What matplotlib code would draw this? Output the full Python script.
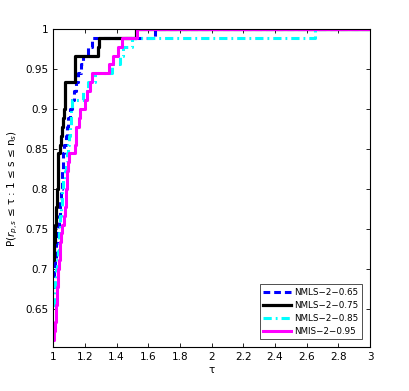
import numpy as np
import matplotlib
matplotlib.use("Agg")
from matplotlib import pyplot as plt

n_prob = 90  # problems in the test set

# performance profiles: tau at which each solver reaches the given count of solved problems
cnt_065 = [61, 62, 63, 64, 65, 66, 67, 68, 69, 70, 71, 72, 73, 74, 75, 76, 77, 78, 79, 80,
           81, 82, 83, 84, 85, 86, 87, 88, 89, 90]
tau_065 = [1.0, 1.003, 1.006, 1.01, 1.015, 1.02, 1.025, 1.03, 1.035, 1.04, 1.045, 1.05, 1.053,
           1.056, 1.06, 1.063, 1.07, 1.08, 1.09, 1.095, 1.107, 1.12, 1.13, 1.145, 1.158, 1.175,
           1.19, 1.22, 1.246, 1.64]

cnt_075 = [64, 66, 68, 70, 72, 74, 76, 77, 78, 79, 80, 81, 82, 83, 84, 87, 88, 89, 90]
tau_075 = [1.0, 1.005, 1.013, 1.018, 1.025, 1.028, 1.031, 1.04, 1.048, 1.055, 1.062, 1.07,
           1.072, 1.074, 1.076, 1.14, 1.28, 1.29, 1.52]

cnt_085 = [59, 60, 61, 62, 63, 64, 65, 66, 67, 68, 69, 70, 71, 72, 73, 74, 75, 76, 77, 78,
           79, 80, 81, 82, 83, 84, 85, 86, 87, 88, 89, 90]
tau_085 = [1.0, 1.005, 1.008, 1.012, 1.019, 1.024, 1.03, 1.034, 1.038, 1.042, 1.046, 1.05,
           1.054, 1.057, 1.064, 1.072, 1.08, 1.088, 1.095, 1.1, 1.105, 1.11, 1.115, 1.12, 1.19,
           1.22, 1.265, 1.37, 1.42, 1.44, 1.5, 2.65]

cnt_095 = [55, 56, 57, 58, 59, 60, 61, 62, 63, 64, 65, 66, 67, 68, 69, 70, 71, 72, 73, 74,
           75, 76, 77, 78, 79, 80, 81, 82, 83, 84, 85, 86, 87, 88, 89, 90]
tau_095 = [1.0, 1.005, 1.01, 1.015, 1.02, 1.023, 1.026, 1.029, 1.032, 1.036, 1.04, 1.044,
           1.048, 1.055, 1.07, 1.077, 1.08, 1.083, 1.087, 1.09, 1.095, 1.10, 1.14, 1.142,
           1.145, 1.16, 1.17, 1.2, 1.215, 1.23, 1.245, 1.35, 1.38, 1.41, 1.435, 1.53]

tau_max = 3.0

labels = ["NMLS\u22122\u22120.65", "NMLS\u22122\u22120.75", "NMLS\u22122\u22120.85", "NMIS\u22122\u22120.95"]

x_ticks = np.arange(1, 3.01, 0.2)
y_ticks = [0.65, 0.7, 0.75, 0.8, 0.85, 0.9, 0.95, 1]


def profile(tau, cnt):
    t = list(tau) + [tau_max]
    r = [c / n_prob for c in cnt] + [cnt[-1] / n_prob]
    return t, r


plt.rcParams["font.size"] = 7.5

fig = plt.figure(figsize=(4.09, 3.91), dpi=100)
ax = fig.add_axes([0.13, 0.1125, 0.775, 0.8135])

t, r = profile(tau_065, cnt_065)
ax.plot(t, r, drawstyle="steps-post", color="#0000ff", lw=2.2, dashes=(2.2, 1.3), label=labels[0])
t, r = profile(tau_075, cnt_075)
ax.plot(t, r, drawstyle="steps-post", color="black", lw=2.3, label=labels[1])
t, r = profile(tau_085, cnt_085)
ax.plot(t, r, drawstyle="steps-post", color="#00ffff", lw=2.2, dashes=(2.7, 1.3, 0.6, 1.3),
        label=labels[2])
t, r = profile(tau_095, cnt_095)
ax.plot(t, r, drawstyle="steps-post", color="#ff00ff", lw=2.2, label=labels[3])

ax.set_xlim(1, 3)
ax.set_ylim(0.6025, 1)
ax.set_xticks(x_ticks)
ax.set_xticklabels(["%g" % round(v, 1) for v in x_ticks])
ax.set_yticks(y_ticks)
ax.set_yticklabels(["%g" % v for v in y_ticks])
ax.tick_params(direction="in", top=True, right=True, length=3, width=0.6)
for s in ax.spines.values():
    s.set_linewidth(0.8)

ax.set_xlabel("\u03c4", labelpad=2)
ax.set_ylabel("P($r_{p,s}$ \u2264 \u03c4 : 1 \u2264 s \u2264 n$_s$)", labelpad=4)

leg = ax.legend(loc="lower right", fancybox=False, edgecolor="black", fontsize=6.3,
                handlelength=3.2, borderaxespad=0.9, labelspacing=0.45,
                handletextpad=0.4, borderpad=0.4)
leg.get_frame().set_linewidth(0.6)

fig.savefig("out.png", dpi=100)
